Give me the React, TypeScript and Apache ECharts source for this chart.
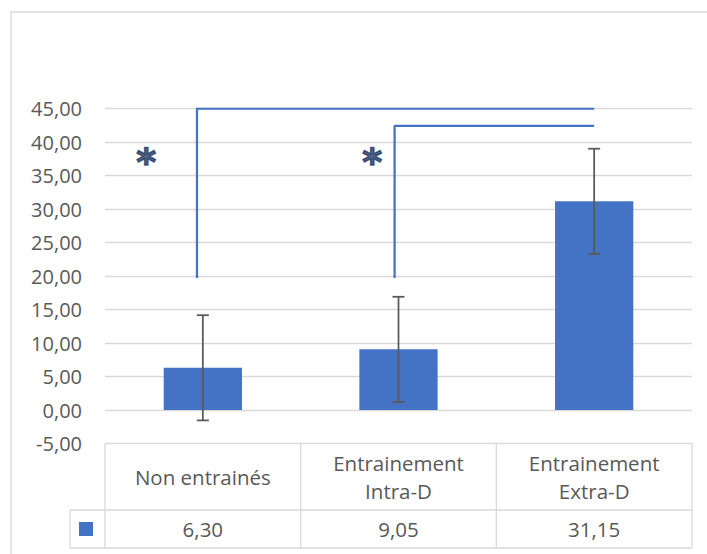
import React, { useEffect, useRef } from "react";
import * as echarts from "echarts";

const categories = ["Non entrainés", "Entrainement\nIntra-D", "Entrainement\nExtra-D"];
const means = [6.3, 9.05, 31.15];
const errors = [7.85, 7.85, 7.85];
const yMin = -5;
const yMax = 45;
const yStep = 5;
const bracketOuter = [[-0.03, 19.7], [-0.03, 45], [2, 45]];
const bracketInner = [[0.98, 19.7], [0.98, 42.4], [2, 42.4]];
const stars = [[-0.29, 37.0], [0.865, 37.0]];

const fmt = (v: number) => v.toFixed(2).replace(".", ",");

const FONT = "'Open Sans', 'Noto Sans', sans-serif";
const TXT = "#595959";
const GRID = "#D9D9D9";
const BLUE = "#4472C4";

export default function App() {
  const ref = useRef<HTMLDivElement>(null);
  useEffect(() => {
    if (!ref.current) return;
    const chart = echarts.init(ref.current, undefined, { renderer: "svg" });
    const gridLeft = 105, gridRight = 692, gridTop = 108.5, gridBottom = 443.5;
    const rowMid = 510, rowEnd = 548, keyLeft = 70;
    const colW = (gridRight - gridLeft) / categories.length;
    const lineStyle = { stroke: GRID, lineWidth: 1.3 };
    const tableLines: any[] = [];
    const hLine = (x1: number, x2: number, y: number) =>
      tableLines.push({ type: "line", shape: { x1, y1: y, x2, y2: y }, style: lineStyle, silent: true });
    const vLine = (x: number, y1: number, y2: number) =>
      tableLines.push({ type: "line", shape: { x1: x, y1, x2: x, y2 }, style: lineStyle, silent: true });
    hLine(keyLeft, gridRight, rowMid);
    hLine(keyLeft, gridRight, rowEnd);
    for (let i = 0; i <= categories.length; i++) vLine(gridLeft + i * colW, gridBottom, rowEnd);
    vLine(keyLeft, rowMid, rowEnd);

    chart.setOption({
      animation: false,
      grid: {
        left: gridLeft,
        right: 707 - gridRight,
        top: gridTop,
        bottom: 554 - gridBottom,
        containLabel: false,
        outerBoundsMode: "none",
      },
      graphic: [
        {
          type: "rect",
          shape: { x: 11, y: 12, width: 800, height: 700 },
          style: { fill: "none", stroke: GRID, lineWidth: 1.3 },
          silent: true,
          z: -1,
        },
        ...tableLines,
        {
          type: "rect",
          shape: { x: 79, y: 522, width: 14, height: 14 },
          style: { fill: BLUE },
          silent: true,
        },
      ],
      xAxis: [
        {
          type: "category",
          data: categories,
          position: "bottom",
          gridIndex: 0,
          axisLine: { show: false },
          axisTick: { show: false },
          axisLabel: {
            interval: 0,
            margin: 33.5,
            verticalAlign: "middle",
            fontSize: 20.5,
            lineHeight: 28,
            color: TXT,
            fontFamily: FONT,
          },
        },
        {
          type: "category",
          data: means.map(fmt),
          position: "bottom",
          gridIndex: 0,
          axisLine: { show: false },
          axisTick: { show: false },
          axisLabel: {
            interval: 0,
            margin: 85.5,
            verticalAlign: "middle",
            fontSize: 20.5,
            color: TXT,
            fontFamily: FONT,
          },
        },
        {
          type: "value",
          min: -0.5,
          max: 2.5,
          show: false,
          position: "top",
          gridIndex: 0,
        },
      ],
      yAxis: {
        type: "value",
        min: yMin,
        max: yMax,
        interval: yStep,
        axisLine: { show: false },
        axisTick: { show: false },
        splitLine: { lineStyle: { color: GRID, width: 1.3 } },
        axisLabel: {
          formatter: (v: number) => fmt(v),
          fontSize: 20,
          color: TXT,
          fontFamily: FONT,
          margin: 23,
        },
      },
      series: [
        {
          type: "bar",
          xAxisIndex: 0,
          data: means,
          barWidth: "40%",
          itemStyle: { color: BLUE },
        },
        {
          type: "custom",
          xAxisIndex: 0,
          data: means.map((m, i) => [i, m - errors[i], m + errors[i]]),
          encode: { x: 0, y: [1, 2] },
          renderItem: (params: any, api: any) => {
            const x = api.value(0);
            const lo = api.coord([x, api.value(1)]);
            const hi = api.coord([x, api.value(2)]);
            const w = 6;
            const style = { stroke: "#595959", lineWidth: 1.75 };
            return {
              type: "group",
              children: [
                { type: "line", shape: { x1: lo[0], y1: lo[1], x2: hi[0], y2: hi[1] }, style },
                { type: "line", shape: { x1: lo[0] - w, y1: lo[1], x2: lo[0] + w, y2: lo[1] }, style },
                { type: "line", shape: { x1: hi[0] - w, y1: hi[1], x2: hi[0] + w, y2: hi[1] }, style },
              ],
            };
          },
          z: 3,
        },
        {
          type: "line",
          xAxisIndex: 2,
          data: bracketOuter,
          symbol: "none",
          lineStyle: { color: BLUE, width: 2.25 },
          z: 4,
        },
        {
          type: "line",
          xAxisIndex: 2,
          data: bracketInner,
          symbol: "none",
          lineStyle: { color: BLUE, width: 2.25 },
          z: 4,
        },
        {
          type: "scatter",
          xAxisIndex: 2,
          data: stars,
          symbolSize: 0,
          label: {
            show: true,
            position: "inside",
            formatter: "*",
            fontSize: 38,
            fontWeight: "bold",
            color: "#1F3864",
            textBorderColor: "#1F3864",
            textBorderWidth: 1.5,
            fontFamily: "'DejaVu Sans', sans-serif",
          },
          z: 5,
        },
      ],
    });
    return () => chart.dispose();
  }, []);
  return (
    <div
      ref={ref}
      style={{ position: "absolute", left: 0, top: 0, width: 707, height: 554, background: "#fff" }}
    />
  );
}
